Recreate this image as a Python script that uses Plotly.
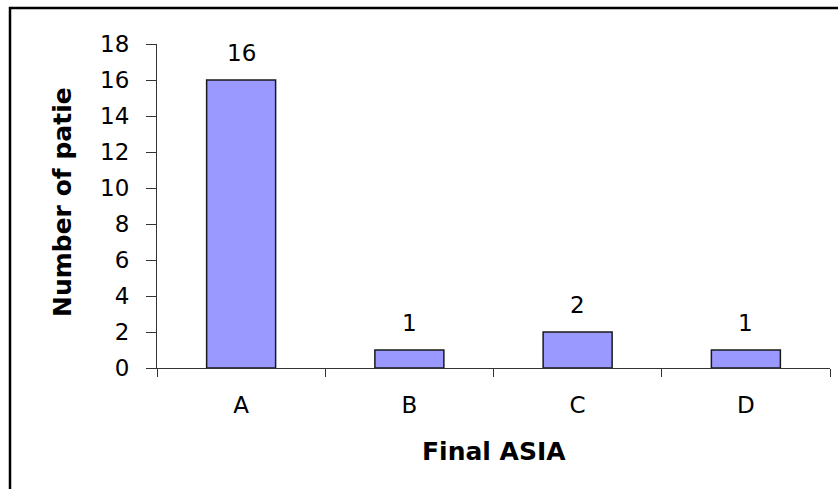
import plotly.graph_objects as go

# Patient counts by final ASIA grade
categories = ["A", "B", "C", "D"]
patients = [16, 1, 2, 1]
y_ticks = [0, 2, 4, 6, 8, 10, 12, 14, 16, 18]

W, H = 838, 489
FONT = "DejaVu Sans"

# plot area in pixels
left, right, top, bottom = 157, 830, 44, 368

fig = go.Figure()
fig.add_trace(go.Bar(
    x=categories,
    y=patients,
    width=0.41,
    marker=dict(color="#9999FF", line=dict(color="#1a1a1a", width=1.5)),
    hoverinfo="skip",
))

# value labels above each bar
for c, v in zip(categories, patients):
    fig.add_annotation(
        x=c, y=v, xref="x", yref="y", text=str(v), showarrow=False,
        yanchor="bottom", yshift=12,
        font=dict(family=FONT, size=23, color="#000000"),
    )

# rotated y-axis title
fig.add_annotation(
    x=62 / W, y=(H - 319) / H, xref="paper", yref="paper",
    text="<b>Number of patie</b>", showarrow=False, textangle=-90,
    xanchor="center", yanchor="bottom",
    font=dict(family=FONT, size=25, color="#000000"),
)

# x-axis title
fig.add_annotation(
    x=0.5 * (left + right) / W, y=(H - 451) / H, xref="paper", yref="paper",
    text="<b>Final ASIA</b>", showarrow=False,
    xanchor="center", yanchor="middle",
    font=dict(family=FONT, size=25, color="#000000"),
)

# outer chart frame
fig.add_shape(
    type="rect", xref="paper", yref="paper",
    x0=10 / W, x1=(W + 20) / W, y0=-0.1, y1=(H - 8) / H,
    line=dict(color="#000000", width=2.5), fillcolor="rgba(0,0,0,0)",
)

fig.update_layout(
    width=W, height=H,
    margin=dict(l=0, r=0, t=0, b=0, autoexpand=False),
    paper_bgcolor="white", plot_bgcolor="white",
    showlegend=False,
    bargap=0.59,
    xaxis=dict(
        domain=[left / W, right / W],
        range=[-0.5, 3.5],
        automargin=False,
        showline=True, linecolor="#333333", linewidth=1,
        ticks="outside", tickson="boundaries", ticklen=8, tickcolor="#333333",
        showgrid=False, zeroline=False,
        tickfont=dict(family=FONT, size=23, color="#000000"),
        ticklabelstandoff=16,
        fixedrange=True,
    ),
    yaxis=dict(
        domain=[(H - bottom) / H, (H - top) / H],
        range=[0, 18],
        tickvals=y_ticks,
        automargin=False,
        showline=True, linecolor="#333333", linewidth=1,
        ticks="outside", ticklen=10, tickcolor="#333333",
        showgrid=False, zeroline=False,
        tickfont=dict(family=FONT, size=23, color="#000000"),
        ticklabelstandoff=12,
        fixedrange=True,
    ),
)

fig.write_html("out.html")
